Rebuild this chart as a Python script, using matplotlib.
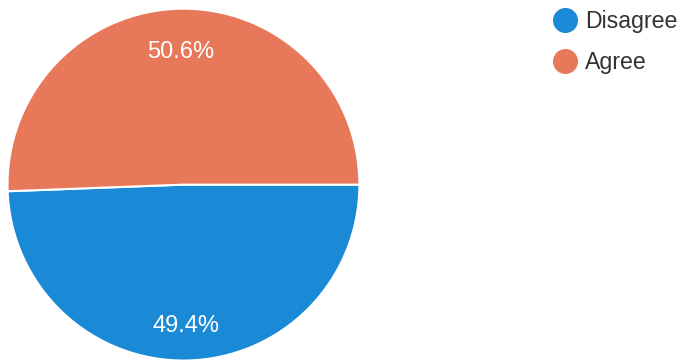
import matplotlib
matplotlib.use("Agg")
import matplotlib.pyplot as plt
from matplotlib.lines import Line2D

plt.rcParams['font.family'] = ['Liberation Sans', 'DejaVu Sans']

labels = ["Disagree", "Agree"]
shares = [49.4, 50.6]
colors = ["#1a8ad6", "#e8785a"]


def draw_chart(path: str) -> None:
    """Draw the pie with a legend on the right and save it."""
    fig = plt.figure(figsize=(6.82, 3.62), dpi=100)
    ax = fig.add_axes([0.011, 0.004, 0.516, 0.972])
    wedges, _, autotexts = ax.pie(
        shares, colors=colors, startangle=0, counterclock=False,
        autopct='%1.1f%%', pctdistance=0.78,
        wedgeprops=dict(edgecolor='white', linewidth=1.5),
        textprops=dict(color='white', fontsize=17),
    )
    # the scanned labels sit a little lower than the wedge centres
    for t in autotexts:
        x, y = t.get_position()
        t.set_position((x, y - 0.025))
    ax.set_xlim(-1, 1)
    ax.set_ylim(-1, 1)
    ax.set_aspect('equal')

    handles = [Line2D([], [], marker='o', linestyle='', markersize=17,
                      markerfacecolor=c, markeredgecolor=c) for c in colors]
    fig.legend(handles, labels, loc='upper left', bbox_to_anchor=(0.793, 1.0),
               frameon=False, fontsize=16.7, labelcolor='#333333',
               handletextpad=0.25, labelspacing=0.75, handlelength=1.2,
               borderaxespad=0.05)
    fig.savefig(path, dpi=100)


if __name__ == "__main__":
    draw_chart("out.png")
